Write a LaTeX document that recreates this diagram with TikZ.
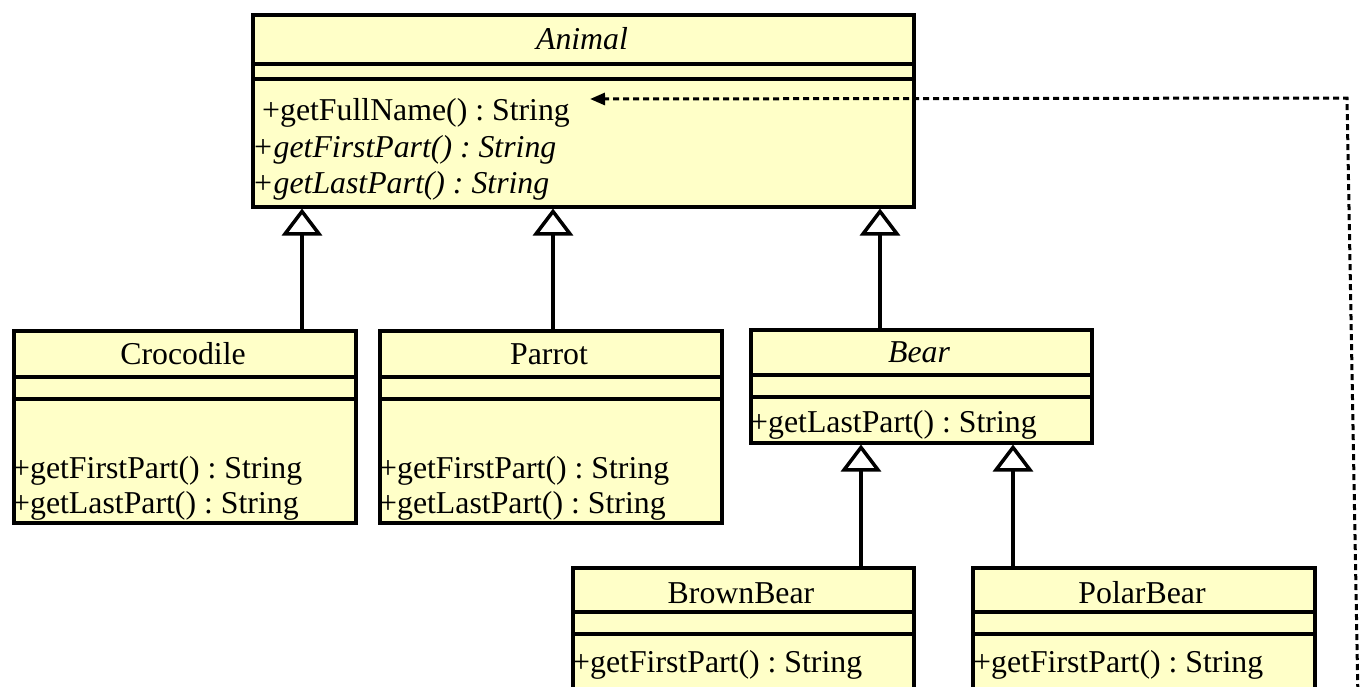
\documentclass[tikz,border=0pt]{standalone}
\usepackage{fontspec}
\setmainfont{Liberation Serif}
\usetikzlibrary{arrows.meta}
\definecolor{classfill}{RGB}{255,255,200}
\frenchspacing
\begin{document}
\begin{tikzpicture}[x=1pt,y=-1pt,
  classbox/.style={draw=black, fill=classfill, line width=3.5pt, rectangle, inner sep=0pt, anchor=north west},
  txt/.style={inner sep=0pt, anchor=base west, font=\fontsize{31.8}{36}\selectfont},
  ttl/.style={inner sep=0pt, anchor=base, font=\fontsize{31.8}{36}\selectfont},
  gen/.style={line width=3.5pt, -{Triangle[open, length=27pt, width=40pt, fill=white]}},
  dep/.style={line width=3pt, dash pattern=on 6pt off 4pt, -{Triangle[length=15pt, width=12pt]}},
  sepline/.style={line width=3.5pt}]
\useasboundingbox (0,0) rectangle (1369,686);
\clip (0,0) rectangle (1369,686);

% Animal
\node[classbox, minimum width=661pt, minimum height=192pt] (animal) at (251,13) {};
\draw[sepline] (251,64) -- (912,64);
\draw[sepline] (251,79) -- (912,79);
\node[ttl, font=\fontsize{31.8}{36}\selectfont\itshape] (animalname) at (582,49) {Animal};
\node[txt] (fn) at (262,120) {+getFullName() : String};
\node[txt, font=\fontsize{31.8}{36}\selectfont\itshape] (afp) at (252,157) {+getFirstPart() : String};
\node[txt, font=\fontsize{31.8}{36}\selectfont\itshape] (alp) at (252,193) {+getLastPart() : String};

% Crocodile
\node[classbox, minimum width=342pt, minimum height=192pt] (croc) at (12,329) {};
\draw[sepline] (12,377) -- (354,377);
\draw[sepline] (12,399) -- (354,399);
\node[ttl] (crocname) at (183,364) {Crocodile};
\node[txt] (cfp) at (12,478) {+getFirstPart() : String};
\node[txt] (clp) at (12,513) {+getLastPart() : String};

% Parrot
\node[classbox, minimum width=342pt, minimum height=192pt] (parrot) at (378,329) {};
\draw[sepline] (378,377) -- (720,377);
\draw[sepline] (378,399) -- (720,399);
\node[ttl] (parrotname) at (549,364) {Parrot};
\node[txt] (pfp) at (379,478) {+getFirstPart() : String};
\node[txt] (plp) at (379,513) {+getLastPart() : String};

% Bear
\node[classbox, minimum width=341pt, minimum height=113pt] (bear) at (749,328) {};
\draw[sepline] (749,375) -- (1090,375);
\draw[sepline] (749,397) -- (1090,397);
\node[ttl, font=\fontsize{31.8}{36}\selectfont\itshape] (bearname) at (919,362) {Bear};
\node[txt] (blp) at (750,432) {+getLastPart() : String};

% BrownBear
\node[classbox, minimum width=341pt, minimum height=160pt] (brown) at (571,566) {};
\draw[sepline] (571,612) -- (912,612);
\draw[sepline] (571,634) -- (912,634);
\node[ttl] (brownname) at (741,603) {BrownBear};
\node[txt] (brfp) at (572,672) {+getFirstPart() : String};

% PolarBear
\node[classbox, minimum width=342pt, minimum height=160pt] (polar) at (971,566) {};
\draw[sepline] (971,612) -- (1313,612);
\draw[sepline] (971,634) -- (1313,634);
\node[ttl] (polarname) at (1142,603) {PolarBear};
\node[txt] (pofp) at (973,672) {+getFirstPart() : String};

% generalizations
\coordinate (xc) at (302,0);
\coordinate (xp) at (553,0);
\coordinate (xb) at (880,0);
\coordinate (xbr) at (861,0);
\coordinate (xpo) at (1013,0);
\draw[gen] (croc.north -| xc) -- (animal.south -| xc);
\draw[gen] (parrot.north -| xp) -- (animal.south -| xp);
\draw[gen] (bear.north -| xb) -- (animal.south -| xb);
\draw[gen] (brown.north -| xbr) -- (bear.south -| xbr);
\draw[gen] (polar.north -| xpo) -- (bear.south -| xpo);

% dependency
\coordinate (dstart) at (1358,700);
\coordinate (dcorner) at (1347,98);
\coordinate (dtip) at (590,99);
\draw[dep] (dstart) -- (dcorner) -- (dtip);
\end{tikzpicture}
\end{document}
